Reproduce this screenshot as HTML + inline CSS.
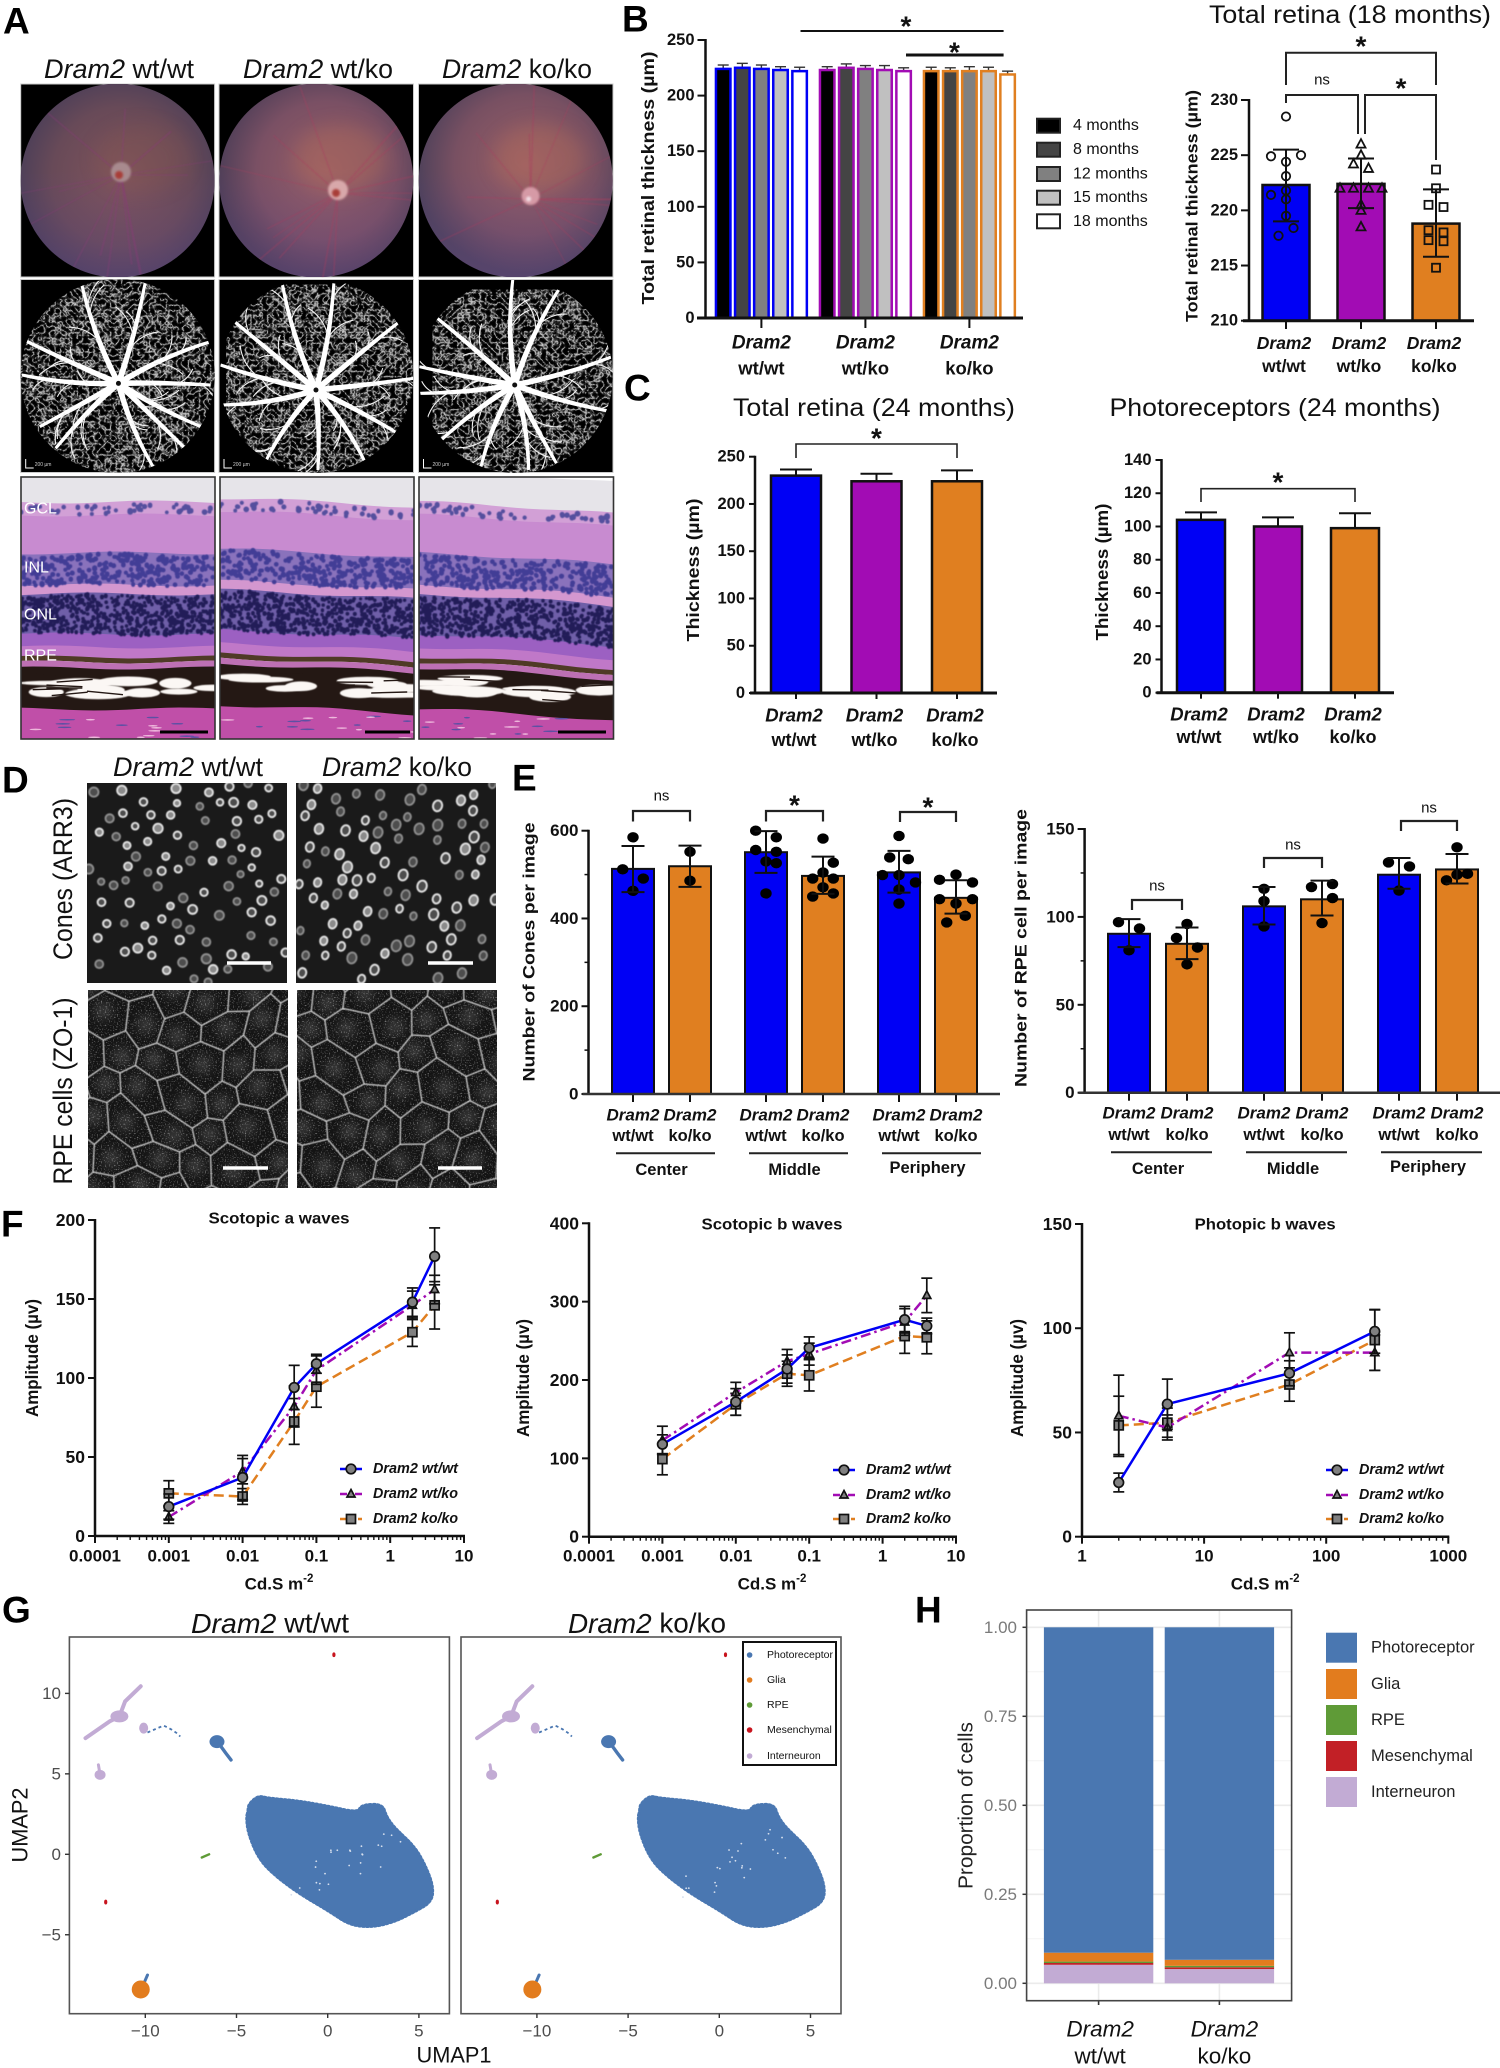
<!DOCTYPE html>
<html lang="en">
<head>
<meta charset="utf-8">
<title>Dram2 retina figure</title>
<style>
html,body{margin:0;padding:0;background:#fff;width:1500px;height:2068px;overflow:hidden}
svg{display:block}
text{font-family:"Liberation Sans",sans-serif}
</style>
</head>
<body>
<svg id="figure" width="1500" height="2068" viewBox="0 0 1500 2068" xmlns="http://www.w3.org/2000/svg">
<defs>
<filter id="blur1" x="-30%" y="-30%" width="160%" height="160%"><feGaussianBlur stdDeviation="1"/></filter>
<filter id="blur06"><feGaussianBlur stdDeviation="0.6"/></filter>
<filter id="blur04"><feGaussianBlur stdDeviation="0.4"/></filter>
<filter id="blur8" x="-50%" y="-50%" width="200%" height="200%"><feGaussianBlur stdDeviation="9"/></filter>
<filter id="blur5" x="-50%" y="-50%" width="200%" height="200%"><feGaussianBlur stdDeviation="5"/></filter>
<filter id="net" color-interpolation-filters="sRGB" x="0" y="0" width="100%" height="100%">
<feTurbulence type="turbulence" baseFrequency="0.18" numOctaves="2" seed="7"/>
<feColorMatrix type="matrix" values="1 0 0 0 0 1 0 0 0 0 1 0 0 0 0 0 0 0 0 1"/>
<feComponentTransfer><feFuncR type="table" tableValues="1 0.6 0.22 0.05 0 0 0 0 0 0"/><feFuncG type="table" tableValues="1 0.6 0.22 0.05 0 0 0 0 0 0"/><feFuncB type="table" tableValues="1 0.6 0.22 0.05 0 0 0 0 0 0"/></feComponentTransfer>
</filter>
<filter id="speck" color-interpolation-filters="sRGB" x="0" y="0" width="100%" height="100%">
<feTurbulence type="fractalNoise" baseFrequency="0.75" numOctaves="1" seed="3"/>
<feColorMatrix type="matrix" values="0 0 0 0 1 0 0 0 0 1 0 0 0 0 1 4.5 0 0 0 -2.5"/>
</filter>
<radialGradient id="fundus-grad-0" cx="0.52" cy="0.48" r="0.55"><stop offset="0" stop-color="#80545c"/><stop offset="0.65" stop-color="#684a58"/><stop offset="1" stop-color="#4a3e58"/></radialGradient>
<radialGradient id="fundus-grad-1" cx="0.55" cy="0.45" r="0.55"><stop offset="0" stop-color="#975e68"/><stop offset="0.65" stop-color="#7a5064"/><stop offset="1" stop-color="#503f58"/></radialGradient>
<radialGradient id="fundus-grad-2" cx="0.55" cy="0.42" r="0.56"><stop offset="0" stop-color="#9a6068"/><stop offset="0.65" stop-color="#785062"/><stop offset="1" stop-color="#4e415a"/></radialGradient>
<linearGradient id="fundus-purple" x1="0" y1="0" x2="0" y2="1"><stop offset="0.45" stop-color="#6a4c96" stop-opacity="0"/><stop offset="1" stop-color="#6a4c96" stop-opacity="0.3"/></linearGradient>
</defs>
</svg>
<script>
/* ===== Chart data ===== */
const genotypes3 = ['wt/wt', 'wt/ko', 'ko/ko'];
const genotypes2 = ['wt/wt', 'ko/ko'];

/* Panel B left */
const bMonths = ['4 months', '8 months', '12 months', '15 months', '18 months'];
const bTicks = [0, 50, 100, 150, 200, 250];
const bWtWt = [224, 225, 224, 223, 222];
const bWtKo = [223, 225, 224, 223, 222];
const bKoKo = [222, 222, 222, 222, 219];
const bErrWtWt = [3.5, 4, 3.5, 3, 3.5];
const bErrWtKo = [3, 3.5, 3, 4, 3];
const bErrKoKo = [3.5, 3, 4, 3.5, 3];

/* Panel B right */
const b18Ticks = [210, 215, 220, 225, 230];
const b18Means = [222.3, 222.4, 218.8];
const b18Lo = [219, 220.2, 215.8];
const b18Hi = [225.5, 224.7, 221.9];
const b18PtsWt = [228.5, 224.9, 225, 224.4, 223.1, 221.8, 221.4, 221, 219.5, 218.4, 217.7];
const b18SideWt = [0, -1, 1, 0, 0, 0, -1, 0, 0, 0.5, -0.5];
const b18PtsHet = [226, 225, 224.2, 223.8, 222, 222, 222, 222, 220.5, 220, 218.5];
const b18SideHet = [0, 0, -0.5, 0.5, -1.4, -0.5, 0.5, 1.4, 0, 0, 0];
const b18PtsKo = [223.7, 222, 220.5, 220.3, 218.2, 218, 217.3, 217.2, 214.8];
const b18SideKo = [0, 0, -0.5, 0.5, -0.5, 0.5, -0.5, 0.5, 0];

/* Panel C */
const cTotalTicks = [0, 50, 100, 150, 200, 250];
const cTotalMeans = [230, 224, 224];
const cTotalHi = [236.5, 232, 235.5];
const cPhotoTicks = [0, 20, 40, 60, 80, 100, 120, 140];
const cPhotoMeans = [104, 100, 99];
const cPhotoHi = [108.5, 105.5, 108];

/* Panel E */
const eRegions = ['Center', 'Middle', 'Periphery'];
const eConeTicks = [0, 200, 400, 600];
const eConeMeans = [513, 519, 551, 497, 505, 447];
const eConeLo = [460, 472, 504, 456, 459, 411];
const eConeHi = [565, 566, 599, 541, 554, 487];
const eConePts = [[585, 512, 491, 463], [552, 486], [600, 585, 556, 552, 530, 526, 457], [582, 527, 505, 491, 491, 471, 457, 450], [588, 539, 535, 499, 499, 482, 466, 434], [500, 488, 482, 444, 444, 434, 406, 391]];
const eConeSide = [[0, -1, 1, 0], [0, 0], [-1, 1, -1, 1, 0, 1, 0], [0, 1, 0, -1, 1, 0, 1, -1], [0, -0.9, 0.9, -1.6, 0, 1.6, 0, 0], [0, -1.6, 1.6, -1.6, 1.6, 0, 0.9, -0.9]];
const eRpeTicks = [0, 50, 100, 150];
const eRpeMeans = [90.4, 84.7, 106, 110, 124, 127];
const eRpeLo = [82.8, 76, 95.7, 100.8, 116, 119];
const eRpeHi = [98.7, 94, 117, 120.6, 133.5, 135.8];
const eRpePts = [[97, 93.4, 81], [96, 88, 82.6, 73], [116, 109, 94.6], [117, 118.7, 110.7, 96.5], [131, 128.7, 115], [139.6, 120.8, 124, 124.5]];
const eRpeSide = [[-1, 1, 0], [0, -1, 1, 0], [0, 0, 0], [-1, 1, 1, 0], [-1, 1, 0], [0, -1, 0, 1]];

/* Panel F */
const fLegend = ['Dram2 wt/wt', 'Dram2 wt/ko', 'Dram2 ko/ko'];
const scotDoses = [0.001, 0.01, 0.05, 0.1, 2, 4];
const scotXTicks = [0.0001, 0.001, 0.01, 0.1, 1, 10];
const scotXLabels = ['0.0001', '0.001', '0.01', '0.1', '1', '10'];
const scotATicks = [0, 50, 100, 150, 200];
const scotAWt = [18.6, 37, 94, 109, 148, 177];
const scotAWtErr = [8, 14, 14, 6, 9, 18];
const scotAHet = [12, 41, 82, 105, 146, 156];
const scotAHetErr = [4, 8, 13, 9, 9, 9];
const scotAKo = [27, 25, 72.5, 94.5, 129, 146];
const scotAKoErr = [8, 5, 14.5, 13, 9, 15];
const scotBTicks = [0, 100, 200, 300, 400];
const scotBWt = [118, 172, 214, 241, 277, 269];
const scotBWtErr = [12, 17, 18, 14, 17, 10];
const scotBHet = [123, 184, 224, 233, 274, 308];
const scotBHetErr = [18, 13, 15, 14, 17, 22];
const scotBKo = [99, 169, 208, 206, 256, 254.5];
const scotBKoErr = [20, 14, 16, 20, 22, 21];
const photDoses = [2, 5, 50, 250];
const photXTicks = [1, 10, 100, 1000];
const photXLabels = ['1', '10', '100', '1000'];
const photTicks = [0, 50, 100, 150];
const photWt = [26, 63.6, 78.4, 98.5];
const photWtErr = [4.5, 12, 6, 10.5];
const photHet = [58, 52.4, 88.3, 88.3];
const photHetErr = [19.5, 6, 9.5, 8.5];
const photKo = [53.4, 54.7, 73, 94.3];
const photKoErr = [14, 7, 8, 14.5];

/* Panel G: UMAP coordinates */
const cellTypes = ['Photoreceptor', 'Glia', 'RPE', 'Mesenchymal', 'Interneuron'];
const umapXTicks = [-10, -5, 0, 5];
const umapYTicks = [-5, 0, 5, 10];
const mainBlobU = [-4.37, -4.35, -3.81, -3.28, -1.58, 0.12, 1.67, 1.83, 3.0, 3.22, 3.68, 4.77, 5.39, 5.79, 5.70, 4.77, 3.68, 2.45, 1.21, 0.12, -1.58, -2.82, -3.75, -4.37, -4.46];
const mainBlobV = [2.66, 3.1, 3.65, 3.49, 3.32, 2.97, 2.59, 3.07, 3.13, 2.34, 1.62, 0.48, -0.77, -2.01, -2.95, -3.57, -4.19, -4.54, -4.40, -3.57, -2.43, -1.39, -0.35, 1.31, 2.34];
const interBranchU = [-13.28, -11.95, -11.42, -11.11, -10.25];
const interBranchV = [7.22, 8.26, 8.57, 9.5, 10.44];
const interSmallU = [-12.48, -12.57];
const interSmallV = [4.94, 5.56];
const interBlobU = [-10.09];
const interBlobV = [7.84];
const photoDotsU = [-9.88, -9.0, -8.8, -8.54, -8.3, -8.08];
const photoDotsV = [7.57, 8.0, 7.9, 7.74, 7.55, 7.32];
const photoTailU = [-6.07, -5.85, -5.6, -5.3];
const photoTailV = [7.0, 6.7, 6.3, 5.87];
const rpeU = [-6.9, -6.5];
const rpeV = [-0.2, 0];
const mesU = [0.34, -12.17];
const mesV = [12.4, -2.97];
const gliaU = [-10.25];
const gliaV = [-8.4];
const gliaTipU = [-10.05, -9.88];
const gliaTipV = [-7.95, -7.5];

/* Panel H */
const propTicks = ['0.00', '0.25', '0.50', '0.75', '1.00'];
const propInterneuron = [0.052, 0.040];
const propMesenchymal = [0.005, 0.005];
const propRpe = [0.004, 0.004];
const propGlia = [0.025, 0.017];
const propPhotoreceptor = [0.914, 0.934];

/* ===== Helpers ===== */
const NS = 'http://www.w3.org/2000/svg';
const svg = document.getElementById('figure');
const BLUE = '#0000f5', PURPLE = '#a20cb4', ORANGE = '#e07f20';
function mk(tag, name, attrs, parent) {
  const el = document.createElementNS(NS, tag);
  
  
  for (const k in attrs) el.setAttribute(k, attrs[k]);
  (parent || svg).appendChild(el);
  return el;
}
function G(name, parent) { return mk('g', name, {}, parent); }
function textAttrs(x, y, o) {
  const a = { x: x, y: y, 'dominant-baseline': 'central', 'text-anchor': o.anchor || 'middle', 'font-size': o.size || 16, fill: o.fill || '#111' };
  if (o.weight) a['font-weight'] = o.weight;
  if (o.style) a['font-style'] = o.style;
  if (o.len) { a.textLength = o.len; a.lengthAdjust = 'spacingAndGlyphs'; }
  if (o.rot) a.transform = 'rotate(-90 ' + x + ' ' + y + ')';
  return a;
}
function T(name, x, y, s, o, parent) {
  const el = mk('text', name, textAttrs(x, y, o || {}), parent);
  el.textContent = s;
  return el;
}
function geno(name, x, y, rest, o, parent) {
  const el = mk('text', name, textAttrs(x, y, o), parent);
  const a = document.createElementNS(NS, 'tspan');
  a.setAttribute('font-style', 'italic');
  a.textContent = 'Dram2';
  el.appendChild(a);
  el.appendChild(document.createTextNode(' ' + rest));
  return el;
}
function L(name, x1, y1, x2, y2, stroke, w, parent) {
  return mk('line', name, { x1: x1, y1: y1, x2: x2, y2: y2, stroke: stroke || '#111', 'stroke-width': w || 2 }, parent);
}
function star(name, x, y, parent, size) { return T(name, x, y + 6, '*', { size: size || 28, weight: 'bold' }, parent); }
function linear(d0, d1, r0, r1) { return function (v) { return r0 + (v - d0) * (r1 - r0) / (d1 - d0); }; }
function bracket(name, x1, x2, y, y1, y2, parent, w) {
  return mk('path', name, { d: 'M' + x1 + ' ' + y1 + 'V' + y + 'H' + x2 + 'V' + y2, fill: 'none', stroke: '#222', 'stroke-width': w || 2 }, parent);
}
function yAxis(name, parent, x, yFn, ticks, o) {
  const g = G(name, parent);
  L('y-axis-line', x, yFn(ticks[0]) + 1, x, yFn(ticks[ticks.length - 1]) - 1, '#111', o.w || 2.5, g);
  ticks.forEach(function (t) {
    L('y-tick', x - (o.tick || 8), yFn(t), x, yFn(t), '#111', 2, g);
    T('y-tick-label', x - (o.gap || 11), yFn(t), String(t), { anchor: 'end', size: o.size || 16.5, weight: 'bold' }, g);
  });
  return g;
}
function barRect(name, parent, cx, w, yTop, yBase, fill, stroke, sw) {
  return mk('rect', name, { x: cx - w / 2, y: yTop, width: w, height: yBase - yTop, fill: fill, stroke: stroke, 'stroke-width': sw }, parent);
}
function errBar(name, parent, cx, yLo, yHi, cap, color, w) {
  const g = G(name, parent);
  L('error-stem', cx, yLo, cx, yHi, color, w, g);
  L('error-cap-top', cx - cap, yHi, cx + cap, yHi, color, w, g);
  if (yLo !== undefined) L('error-cap-bottom', cx - cap, yLo, cx + cap, yLo, color, w, g);
  return g;
}
function errTop(name, parent, cx, yBar, yHi, cap, color, w) {
  const g = G(name, parent);
  L('error-stem', cx, yBar, cx, yHi, color, w, g);
  L('error-cap', cx - cap, yHi, cx + cap, yHi, color, w, g);
  return g;
}
function rng(seed) { let s = seed; return function () { s = (s * 16807) % 2147483647; return (s - 1) / 2147483646; }; }

/* ===== Panel letters ===== */
[['A', 3, 21], ['B', 622, 19], ['C', 624, 388], ['D', 2, 780], ['E', 512, 778], ['F', 1, 1224], ['G', 2, 1610], ['H', 915, 1610]].forEach(function (p) {
  T('panel-letter-' + p[0].toLowerCase(), p[1], p[2], p[0], { anchor: 'start', size: 37, weight: 'bold', fill: '#000' });
});

/* ===== Panel A: images ===== */
const panelA = G('panel-a');
const colsA = [[20.7, 214.6], [219, 413.5], [418.5, 613]];
const aTitles = ['wt/wt', 'wt/ko', 'ko/ko'];
const aTitleX = [119, 318, 517];
aTitles.forEach(function (t, i) { geno('panel-a-title-' + t.replace('/', '-'), aTitleX[i], 69, t, { size: 27, len: 150 }, panelA); });
const discs = [[121, 175], [338, 193], [530.6, 199]];
const defs = svg.querySelector('defs');
colsA.forEach(function (c, i) {
  const w = c[1] - c[0], cx = (c[0] + c[1]) / 2, cy = 180.5, r = 97;
  const cp = document.createElementNS(NS, 'clipPath'); cp.id = 'fundus-clip-' + i;
  const cc = document.createElementNS(NS, 'circle'); cc.setAttribute('cx', cx); cc.setAttribute('cy', cy); cc.setAttribute('r', r); cp.appendChild(cc); defs.appendChild(cp);
  const g = G('fundus-photo-' + i, panelA);
  mk('rect', 'fundus-background', { x: c[0], y: 84, width: w, height: 193, fill: '#000', stroke: '#ccc', 'stroke-width': 1 }, g);
  const inner = mk('g', 'fundus-disc-area', { 'clip-path': 'url(#fundus-clip-' + i + ')' }, g);
  mk('rect', 'fundus-gradient', { x: c[0], y: 84, width: w, height: 193, fill: 'url(#fundus-grad-' + i + ')' }, inner);
  mk('rect', 'fundus-purple-tint', { x: c[0], y: 84, width: w, height: 193, fill: 'url(#fundus-purple)' }, inner);
  mk('ellipse', 'fundus-warm-area', { cx: cx + 24, cy: cy - 22, rx: 46, ry: 34, fill: i === 0 ? '#85564f' : '#b06a58', opacity: i === 0 ? 0.3 : 0.42, filter: 'url(#blur8)' }, inner);
  const d = discs[i], rand = rng(31 + i * 17);
  const vessels = G('retinal-vessels', inner);
  vessels.setAttribute('filter', 'url(#blur06)');
  for (let k = 0; k < 14; k++) {
    const ang = (rand() * 360) * Math.PI / 180, len = 60 + rand() * 90;
    L('retinal-vessel', d[0], d[1], d[0] + Math.cos(ang) * len, d[1] + Math.sin(ang) * len, i === 0 ? '#8a3a78' : '#a8405e', 0.9 + rand(), vessels).setAttribute('opacity', 0.35);
  }
  mk('circle', 'optic-disc', { cx: d[0], cy: d[1] - 3, r: i === 2 ? 9 : 10, fill: i === 0 ? '#a88a8e' : (i === 1 ? '#d8a8aa' : '#d69aa6'), filter: 'url(#blur1)' }, inner);
  mk('circle', 'optic-cup', { cx: d[0] - 2, cy: d[1], r: i === 2 ? 2.5 : 4, fill: i === 2 ? '#f3dfe6' : '#a83c38', filter: 'url(#blur1)' }, inner);
});
const angioVessels = [
  [[205, 850], [365, 850], [60, 1020], [530, 1025], [55, 1125], [530, 1155], [140, 1345], [505, 1280], [385, 1400], [470, 1350], [100, 1280]],
  [[710, 850], [840, 850], [590, 965], [1005, 965], [555, 1095], [1040, 1135], [560, 1215], [1000, 1300], [670, 1380], [800, 1410], [920, 1390]],
  [[1290, 840], [1405, 870], [1095, 950], [1540, 1070], [1055, 1100], [1540, 1235], [1055, 1180], [1110, 1320], [1210, 1400], [1330, 1410], [1400, 1390]]
];
const angioCenter = [[298, 1150], [795, 1170], [1295, 1155]];
colsA.forEach(function (c, i) {
  const w = c[1] - c[0], cx = (c[0] + c[1]) / 2, cy = 376, r = 97;
  const cp = document.createElementNS(NS, 'clipPath'); cp.id = 'angio-clip-' + i;
  const cc = document.createElementNS(NS, 'circle'); cc.setAttribute('cx', cx); cc.setAttribute('cy', cy); cc.setAttribute('r', r); cp.appendChild(cc); defs.appendChild(cp);
  const g = G('angiogram-' + i, panelA);
  mk('rect', 'angiogram-background', { x: c[0], y: 279.5, width: w, height: 193, fill: '#000', stroke: '#ccc', 'stroke-width': 1 }, g);
  const inner = mk('g', 'angiogram-vessels', { 'clip-path': 'url(#angio-clip-' + i + ')' }, g);
  mk('rect', 'capillary-network', { x: c[0], y: 279.5, width: w, height: 193, filter: 'url(#net)', opacity: 0.85, transform: 'translate(' + (i * 7) + ' ' + (i * 5) + ')' }, inner);
  const px = function (zx) { return zx / 2.516; }, py = function (zy) { return zy / 3; };
  const c0x = px(angioCenter[i][0]), c0y = py(angioCenter[i][1]);
  const rand = rng(401 + i * 29);
  angioVessels[i].forEach(function (e) {
    const ex = px(e[0]), ey = py(e[1]);
    const dx = ex - c0x, dy = ey - c0y, n = Math.hypot(dx, dy), nx = -dy / n, ny = dx / n;
    const bend = (rand() - 0.5) * 14, mx = (c0x + ex) / 2 + nx * bend, my = (c0y + ey) / 2 + ny * bend;
    mk('path', 'major-vessel', { d: 'M' + (c0x + nx * 3) + ' ' + (c0y + ny * 3) + 'Q' + (mx + nx * 2.4) + ' ' + (my + ny * 2.4) + ' ' + (ex + nx * 1.5) + ' ' + (ey + ny * 1.5) + 'L' + (ex - nx * 1.5) + ' ' + (ey - ny * 1.5) + 'Q' + (mx - nx * 2.4) + ' ' + (my - ny * 2.4) + ' ' + (c0x - nx * 3) + ' ' + (c0y - ny * 3) + 'Z', fill: '#fff' }, inner);
    for (let b = 0; b < 3; b++) {
      const f = 0.3 + rand() * 0.6, sx = c0x + dx * f + nx * bend * 0.5, sy = c0y + dy * f + ny * bend * 0.5, sgn = rand() > 0.5 ? 1 : -1, l = 16 + rand() * 22;
      mk('path', 'vessel-branch', { d: 'M' + sx + ' ' + sy + 'q' + (dx / n * l * 0.5 + nx * sgn * l * 0.2) + ' ' + (dy / n * l * 0.5 + ny * sgn * l * 0.2) + ' ' + (dx / n * l * 0.7 + nx * sgn * l * 0.7) + ' ' + (dy / n * l * 0.7 + ny * sgn * l * 0.7), fill: 'none', stroke: '#f2f2f2', 'stroke-width': 1.1 }, inner);
    }
  });
  mk('circle', 'optic-nerve-head', { cx: c0x, cy: c0y, r: 2.5, fill: '#111' }, inner);
  mk('path', 'angiogram-scale-bar', { d: 'M' + (c[0] + 5) + ' 459V468H' + (c[0] + 13), fill: 'none', stroke: '#fff', 'stroke-width': 1 }, g);
  T('angiogram-scale-label', c[0] + 14, 465, '200 µm', { anchor: 'start', size: 5, fill: '#ccc' }, g);
});
/* histology */
const histoCols = [[21, 215], [220, 414], [419, 613.5]];
const histoTilt = [[0, 0, 0], [-4, -1, 5], [0, 3, 12]];
const histoLayers = [
  ['vitreous-space', 476, 503, '#e6e4e9'], ['ganglion-cell-layer', 502, 516, '#d2a0d6'], ['inner-plexiform-layer', 515, 554, '#c88bd0'],
  ['inner-nuclear-layer', 553, 586, '#8a72bc'], ['outer-plexiform-layer', 585, 595, '#d497cf'], ['outer-nuclear-layer', 594, 635, '#6f5fa8'],
  ['photoreceptor-inner-segments', 634, 648, '#9c60c2'], ['photoreceptor-outer-segments', 647, 658, '#c078c8'], ['rpe-layer', 657, 662, '#4f3a26'], ['bruch-layer', 662, 669, '#bd70b4'],
  ['choroid-layer', 668, 710, '#241814'], ['sclera-layer', 709, 740, '#c04fa8']
];
histoCols.forEach(function (c, i) {
  const g = G('histology-section-' + i, panelA);
  const cp = document.createElementNS(NS, 'clipPath'); cp.id = 'histo-clip-' + i;
  const cr = document.createElementNS(NS, 'rect'); cr.setAttribute('x', c[0]); cr.setAttribute('y', 477); cr.setAttribute('width', c[1] - c[0]); cr.setAttribute('height', 262); cp.appendChild(cr); defs.appendChild(cp);
  const inner = mk('g', 'histology-layers', { 'clip-path': 'url(#histo-clip-' + i + ')' }, g);
  const t = histoTilt[i], W = c[1] - c[0];
  const yAt = function (b, f) { return b + (1 - f) * (1 - f) * t[0] + 2 * f * (1 - f) * t[1] + f * f * t[2] + 1.5 * Math.sin(f * 7 + i * 2 + b / 40); };
  histoLayers.forEach(function (l, k) {
    const top = k === 0 ? 470 : l[1], bot = k === histoLayers.length - 1 ? 760 : l[2];
    let d = '';
    for (let s = 0; s <= 16; s++) d += (s ? 'L' : 'M') + (c[0] + W * s / 16).toFixed(1) + ' ' + yAt(top, s / 16).toFixed(1);
    for (let s = 16; s >= 0; s--) d += 'L' + (c[0] + W * s / 16).toFixed(1) + ' ' + yAt(bot, s / 16).toFixed(1);
    mk('path', l[0], { d: d + 'Z', fill: l[3] }, inner);
  });
  const rand = rng(97 + i * 13);
  const dots = function (name, n, b0, b1, r0, r1, col) {
    let d = '';
    for (let k = 0; k < n; k++) {
      const f = rand(), y = yAt(b0 + rand() * (b1 - b0), f), x = c[0] + f * W, r = r0 + rand() * (r1 - r0);
      d += 'M' + (x - r).toFixed(1) + ' ' + y.toFixed(1) + 'a' + r.toFixed(1) + ' ' + r.toFixed(1) + ' 0 1 0 ' + (2 * r).toFixed(1) + ' 0a' + r.toFixed(1) + ' ' + r.toFixed(1) + ' 0 1 0 ' + (-2 * r).toFixed(1) + ' 0';
    }
    mk('path', name, { d: d, fill: col, filter: 'url(#blur04)' }, inner);
  };
  dots('ganglion-cell-nuclei', 46, 505, 514, 1.8, 3, '#55509e');
  dots('inner-nuclear-cells', 300, 555, 585, 1.9, 2.6, '#433c96');
  dots('outer-nuclear-cells', 620, 596, 634, 1.6, 2.1, '#241f58');
  for (let k = 0; k < 10; k++) {
    const fx = rand();
    mk('ellipse', 'choroid-gap', { cx: c[0] + fx * W, cy: yAt(674 + rand() * 20, fx), rx: 16 + rand() * 22, ry: 2 + rand() * 3.5, fill: '#fbf7f4', filter: 'url(#blur04)' }, inner);
  }
  for (let k = 0; k < 8; k++) {
    const fx = rand(), yy = yAt(674 + rand() * 20, fx);
    L('choroid-pigment-streak', c[0] + fx * W - 18, yy - 2 + rand() * 4, c[0] + fx * W + 18, yy - 2 + rand() * 4, '#241814', 1.4, inner);
  }
  for (let k = 0; k < 16; k++) {
    mk('ellipse', 'sclera-streak', { cx: c[0] + rand() * W, cy: 716 + rand() * 22, rx: 3 + rand() * 5, ry: 0.8, fill: k % 2 ? '#eeb8dc' : '#5c50a4' }, inner);
  }
  mk('rect', 'histology-frame', { x: c[0], y: 477, width: W, height: 262, fill: 'none', stroke: '#333', 'stroke-width': 1.6 }, g);
});
[['GCL', 509], ['INL', 568], ['ONL', 615], ['RPE', 656]].forEach(function (l) {
  T('layer-label-' + l[0].toLowerCase(), 24, l[1], l[0], { anchor: 'start', size: 16, fill: '#fff' }, panelA);
});
[[160, 208], [365, 410], [558, 606]].forEach(function (b) { L('histology-scale-bar', b[0], 732, b[1], 732, '#000', 3, panelA); });

/* ===== Panel B left ===== */
(function () {
  const g = G('panel-b-thickness-over-time');
  const y = linear(0, 250, 318, 40);
  const x = function (gi, mi) { return 723.2 + gi * 104 + mi * 19.1; };
  const fills = ['#000', '#444', '#808080', '#c0c0c0', '#fff'];
  const stroke = [BLUE, PURPLE, ORANGE];
  [bWtWt, bWtKo, bKoKo].forEach(function (vals, gi) {
    const errs = [bErrWtWt, bErrWtKo, bErrKoKo][gi];
    vals.forEach(function (v, mi) {
      errTop('bar-error', g, x(gi, mi), y(v), y(v + errs[mi]), 5.5, '#333', 1.4);
      barRect('bar-' + genotypes3[gi].replace('/', '-') + '-' + bMonths[mi].replace(' ', '-'), g, x(gi, mi), 14.5, y(v), y(0), fills[mi], stroke[gi], 2.5);
    });
  });
  yAxis('y-axis', g, 705.5, y, bTicks, {});
  L('x-axis-line', 697, 318, 1023, 318, '#111', 3, g);
  genotypes3.forEach(function (t, i) {
    const cx = x(i, 2);
    L('x-tick', cx, 318, cx, 328, '#111', 2, g);
    T('x-label-gene', cx, 343, 'Dram2', { size: 19, weight: 'bold', style: 'italic' }, g);
    T('x-label-genotype', cx, 368, t, { size: 18.5, weight: 'bold' }, g);
  });
  T('y-axis-title', 648, 178, 'Total retinal thickness (µm)', { size: 17.5, weight: 'bold', rot: 1, len: 253 }, g);
  L('significance-line-top', 800.5, 31, 1003.6, 31, '#111', 2, g);
  star('significance-star-top', 906, 20, g);
  L('significance-line-lower', 906, 55, 1003.6, 55, '#111', 3, g);
  star('significance-star-lower', 954.5, 46, g);
  const legYs = [125.7, 149.7, 174, 197.7, 221.3];
  bMonths.forEach(function (m, i) {
    mk('rect', 'legend-swatch-' + m.replace(' ', '-'), { x: 1037, y: legYs[i] - 7, width: 23, height: 14, fill: fills[i], stroke: '#222', 'stroke-width': 2 }, g);
    T('legend-label-' + m.replace(' ', '-'), 1073, legYs[i], m, { anchor: 'start', size: 16 }, g);
  });
})();

/* ===== Panel B right ===== */
(function () {
  const g = G('panel-b-total-retina-18-months');
  T('chart-title', 1350, 15, 'Total retina (18 months)', { size: 25, len: 282 }, g);
  const y = linear(210, 230, 320.7, 100);
  const x = function (i) { return 1286 + 75 * i; };
  const cols = [BLUE, PURPLE, ORANGE];
  b18Means.forEach(function (v, i) {
    barRect('bar-' + genotypes3[i].replace('/', '-'), g, x(i), 47, y(v), y(210), cols[i], '#111', 2.5);
  });
  const ptsets = [b18PtsWt, b18PtsHet, b18PtsKo], sides = [b18SideWt, b18SideHet, b18SideKo];
  ptsets.forEach(function (arr, i) {
    arr.forEach(function (v, k) {
      const px = x(i) + sides[i][k] * 15, py = y(v);
      if (i === 0) mk('circle', 'point-circle', { cx: px, cy: py, r: 4.2, fill: 'none', stroke: '#111', 'stroke-width': 1.8 }, g);
      if (i === 1) mk('path', 'point-triangle', { d: 'M' + px + ' ' + (py - 5) + 'l4.5 8.5h-9z', fill: 'none', stroke: '#111', 'stroke-width': 1.8 }, g);
      if (i === 2) mk('rect', 'point-square', { x: px - 4, y: py - 4, width: 8, height: 8, fill: 'none', stroke: '#111', 'stroke-width': 1.8 }, g);
    });
    errBar('error-bar', g, x(i), y(b18Lo[i]), y(b18Hi[i]), 13, '#111', 2);
  });
  yAxis('y-axis', g, 1249, y, b18Ticks, {});
  L('x-axis-line', 1243, 320.7, 1474, 320.7, '#111', 3, g);
  genotypes3.forEach(function (t, i) {
    L('x-tick', x(i), 320, x(i), 329, '#111', 2, g);
    T('x-label-gene', x(i) - 2, 343, 'Dram2', { size: 17.5, weight: 'bold', style: 'italic' }, g);
    T('x-label-genotype', x(i) - 2, 366, t, { size: 17.5, weight: 'bold' }, g);
  });
  T('y-axis-title', 1192, 206, 'Total retinal thickness (µm)', { size: 17, weight: 'bold', rot: 1, len: 232 }, g);
  bracket('significance-bracket-outer', x(0), x(2), 52.7, 85, 85, g);
  star('significance-star-outer', x(1), 40, g);
  bracket('significance-bracket-left', x(0), 1358, 95, 103, 134, g);
  bracket('significance-bracket-right', 1365, x(2), 95, 134, 160, g);
  T('ns-label', 1322, 80, 'ns', { size: 15 }, g);
  star('significance-star-right', 1401, 82, g);
})();

/* ===== Panel C ===== */
function drawC(name, title, titleX, o, means, hi, ticks) {
  const g = G(name);
  T('chart-title', titleX, 408, title, { size: 25, len: o.titleLen }, g);
  const y = linear(ticks[0], ticks[ticks.length - 1], o.y0, o.yTop);
  const x = function (i) { return o.x0 + o.step * i; };
  const cols = [BLUE, PURPLE, ORANGE];
  means.forEach(function (v, i) {
    errTop('error-bar', g, x(i), y(v), y(hi[i]), 16, '#111', 2);
    barRect('bar-' + genotypes3[i].replace('/', '-'), g, x(i), o.bw, y(v), y(0), cols[i], '#111', 2.5);
  });
  yAxis('y-axis', g, o.ax, y, ticks, { tick: 6, gap: 10 });
  L('x-axis-line', o.ax - 5, y(0), o.xEnd, y(0), '#111', 3, g);
  genotypes3.forEach(function (t, i) {
    L('x-tick', x(i), y(0), x(i), y(0) + 6, '#111', 2, g);
    T('x-label-gene', x(i) - 2, o.l1, 'Dram2', { size: 18.5, weight: 'bold', style: 'italic' }, g);
    T('x-label-genotype', x(i) - 2, o.l2, t, { size: 18, weight: 'bold' }, g);
  });
  T('y-axis-title', o.tx, o.tc, 'Thickness (µm)', { size: 17.5, weight: 'bold', rot: 1, len: o.tl }, g);
  bracket('significance-bracket', x(0), x(2), o.by, o.by2, o.by2, g, 1.6);
  star('significance-star', x(1), o.sy, g);
}
drawC('panel-c-total-retina-24-months', 'Total retina (24 months)', 874, { titleLen: 282, y0: 693, yTop: 456.7, x0: 796, step: 80.5, bw: 50, ax: 755, xEnd: 997, l1: 715, l2: 740, tx: 693, tc: 570, tl: 143, by: 444, by2: 458, sy: 432 }, cTotalMeans, cTotalHi, cTotalTicks);
drawC('panel-c-photoreceptors-24-months', 'Photoreceptors (24 months)', 1275, { titleLen: 331, y0: 692.7, yTop: 460, x0: 1201, step: 77, bw: 48, ax: 1161.5, xEnd: 1394, l1: 714, l2: 737, tx: 1102, tc: 572, tl: 137, by: 488.7, by2: 502, sy: 476 }, cPhotoMeans, cPhotoHi, cPhotoTicks);

/* ===== Panel D ===== */
(function () {
  const g = G('panel-d');
  geno('column-title-wt-wt', 188, 767, 'wt/wt', { size: 27, len: 150 }, g);
  geno('column-title-ko-ko', 397, 767, 'ko/ko', { size: 27, len: 150 }, g);
  T('row-label-cones', 63, 879, 'Cones (ARR3)', { size: 27, rot: 1, len: 162 }, g);
  T('row-label-rpe', 63, 1091, 'RPE cells (ZO-1)', { size: 27, rot: 1, len: 187 }, g);
  [[87, 783, 5], [296, 783, 23]].forEach(function (p, pi) {
    const sub = G('cones-image-' + pi, g);
    const cp = document.createElementNS(NS, 'clipPath'); cp.id = 'd-clip-' + pi;
    const cr = document.createElementNS(NS, 'rect'); cr.setAttribute('x', p[0]); cr.setAttribute('y', p[1]); cr.setAttribute('width', 200); cr.setAttribute('height', 200); cp.appendChild(cr); defs.appendChild(cp);
    mk('rect', 'cones-background', { x: p[0], y: p[1], width: 200, height: 200, fill: '#1a1a1a' }, sub);
    const inner = mk('g', 'cone-cells', { 'clip-path': 'url(#d-clip-' + pi + ')', filter: 'url(#blur06)' }, sub);
    const rand = rng(p[2] * 211 + 5);
    const placed = [];
    for (let k = 0; k < 900 && placed.length < 92; k++) {
      const cx = p[0] + rand() * 200, cy = p[1] + rand() * 200;
      if (placed.some(function (q) { return Math.hypot(q[0] - cx, q[1] - cy) < 12.5; })) continue;
      placed.push([cx, cy]);
      const rr = 3.2 + rand() * 1.6, bright = rand();
      const el = mk('ellipse', 'cone-cell', { cx: cx, cy: cy, rx: rr, ry: pi ? rr * 1.2 : rr, fill: bright > 0.75 ? '#8a8a8a' : '#4e4e4e', stroke: bright > 0.35 ? '#e2e2e2' : '#8e8e8e', 'stroke-width': 1.8 }, inner);
      if (pi) el.setAttribute('transform', 'rotate(15 ' + cx + ' ' + cy + ')');
    }
  });
  [[88, 990, 1.2], [297, 990, 2.9]].forEach(function (p, pi) {
    const sub = G('rpe-image-' + pi, g);
    const cp = document.createElementNS(NS, 'clipPath'); cp.id = 'r-clip-' + pi;
    const cr = document.createElementNS(NS, 'rect'); cr.setAttribute('x', p[0]); cr.setAttribute('y', p[1]); cr.setAttribute('width', 200); cr.setAttribute('height', 198); cp.appendChild(cr); defs.appendChild(cp);
    mk('rect', 'rpe-background', { x: p[0], y: p[1], width: 200, height: 198, fill: '#141414' }, sub);
    const inner = mk('g', 'rpe-cells', { 'clip-path': 'url(#r-clip-' + pi + ')' }, sub);
    const s = p[2], R = 23;
    const warp = function (x, y) { return [x + 9 * Math.sin(y / 37 + s) + 5 * Math.sin(x / 17 + s * 2 + y / 29), y + 9 * Math.sin(x / 31 + s) + 5 * Math.sin(y / 15 + s + x / 23)]; };
    let d = '';
    for (let row = -1; row < 8; row++) {
      for (let col = -1; col < 8; col++) {
        const cx = p[0] + col * R * 1.732 + (row % 2 ? R * 0.866 : 0), cy = p[1] + row * R * 1.5;
        const cw = warp(cx, cy);
        mk('circle', 'rpe-cell-glow', { cx: cw[0], cy: cw[1], r: 9, fill: '#5c5c5c', opacity: 0.5, filter: 'url(#blur5)' }, inner);
        for (let a = 0; a <= 6; a++) {
          const an = Math.PI / 6 + a * Math.PI / 3;
          const v = warp(cx + R * Math.cos(an), cy + R * Math.sin(an));
          d += (a ? 'L' : 'M') + v[0].toFixed(1) + ' ' + v[1].toFixed(1);
        }
      }
    }
    mk('rect', 'rpe-speckle', { x: p[0], y: p[1], width: 200, height: 198, filter: 'url(#speck)', opacity: 0.4 }, inner);
    mk('path', 'rpe-cell-borders', { d: d, fill: 'none', stroke: '#d8d8d8', 'stroke-width': 1.2, filter: 'url(#blur04)' }, inner);
  });
  [[227, 271, 963], [428, 473, 963], [223, 268, 1168], [438, 482, 1168]].forEach(function (b) { L('scale-bar', b[0], b[2], b[1], b[2], '#fff', 3.5, g); });
})();

/* ===== Panel E ===== */
function drawE(name, o, ticks, minor, means, lo, hi, pts, side) {
  const g = G(name);
  const y = linear(0, ticks[ticks.length - 1], o.y0, o.yTop);
  const x = function (i) { return o.x0 + (i >> 1) * o.groupStep + (i % 2) * o.pairStep; };
  means.forEach(function (v, i) {
    barRect('bar-' + eRegions[i >> 1].toLowerCase() + '-' + genotypes2[i % 2].replace('/', '-'), g, x(i), 42, y(v), y(0), i % 2 ? ORANGE : BLUE, '#111', 2);
    pts[i].forEach(function (pv, k) {
      mk('ellipse', 'data-point', { cx: x(i) + side[i][k] * o.sideUnit, cy: y(pv), rx: 5.7, ry: 5.2, fill: '#000' }, g);
    });
    errBar('error-bar', g, x(i), y(lo[i]), y(hi[i]), 11.5, '#111', 2);
    L('x-tick', x(i), y(0), x(i), y(0) + 8, '#111', 2, g);
    T('x-label-gene', x(i), o.l1, 'Dram2', { size: 17, weight: 'bold', style: 'italic' }, g);
    T('x-label-genotype', x(i), o.l2, genotypes2[i % 2], { size: 16.5, weight: 'bold' }, g);
  });
  minor.forEach(function (t) { L('y-minor-tick', o.ax - 4, y(t), o.ax, y(t), '#111', 1.5, g); });
  yAxis('y-axis', g, o.ax, y, ticks, { tick: 7, gap: 10, size: 17 });
  L('x-axis-line', o.ax - 6, y(0), o.xEnd, y(0), '#333', 2.5, g);
  T('y-axis-title', o.tx, o.tc, o.title, { size: 17, weight: 'bold', rot: 1, len: o.tl }, g);
  eRegions.forEach(function (r, i) {
    const l = x(i * 2) + o.ulL, rr = x(i * 2) + o.ulR;
    L('group-underline-' + r.toLowerCase(), l, o.uy, rr, o.uy, '#222', 2, g);
    T('group-label-' + r.toLowerCase(), (x(i * 2) + x(i * 2 + 1)) / 2, o.gy[i], r, { size: 16.5, weight: 'bold' }, g);
  });
  o.brackets.forEach(function (b, i) {
    const xa = x(i * 2) + b[0], xb = x(i * 2 + 1) + b[1];
    bracket('significance-bracket-' + eRegions[i].toLowerCase(), xa, xb, b[2], b[3], b[3], g, 2.2);
    if (b[4] === 'ns') T('ns-label', (xa + xb) / 2, b[5], 'ns', { size: 15 }, g);
    else star('significance-star', (xa + xb) / 2, b[5], g);
  });
}
drawE('panel-e-cones', { y0: 1094, yTop: 830.7, x0: 633, groupStep: 133, pairStep: 57, sideUnit: 10.3, ax: 588.5, xEnd: 1000, l1: 1115, l2: 1136, tx: 529, tc: 952, tl: 259, title: 'Number of Cones per image', ulL: -17, ulR: 82, uy: 1153.3, gy: [1170, 1170, 1168],
  brackets: [[0, 0, 811, 821.5, 'ns', 796], [0, 0, 811, 821.5, '*', 799], [1, 0, 812, 822, '*', 801]] }, eConeTicks, [100, 300, 500], eConeMeans, eConeLo, eConeHi, eConePts, eConeSide);
drawE('panel-e-rpe', { y0: 1092.7, yTop: 829, x0: 1129, groupStep: 135, pairStep: 58, sideUnit: 10.5, ax: 1084.6, xEnd: 1500, l1: 1113, l2: 1135, tx: 1021, tc: 948, tl: 278, title: 'Number of RPE cell per image', ulL: -18, ulR: 83, uy: 1152.3, gy: [1169, 1169, 1167],
  brackets: [[3, -5, 900, 910, 'ns', 886], [0, 0, 858, 868, 'ns', 845], [2, 0, 821, 831, 'ns', 808]] }, eRpeTicks, [25, 75, 125], eRpeMeans, eRpeLo, eRpeHi, eRpePts, eRpeSide);

/* ===== Panel F ===== */
function drawErg(name, o, doses, xTicks, xLabels, yTicks, series, errs) {
  const g = G(name);
  const minLog = Math.log10(xTicks[0]), maxLog = Math.log10(xTicks[xTicks.length - 1]);
  const xl = linear(minLog, maxLog, o.x0, o.x1);
  const x = function (v) { return xl(Math.log10(v)); };
  const y = linear(0, yTicks[yTicks.length - 1], o.y0, o.yTop);
  T('chart-title', (o.x0 + o.x1) / 2 + o.tOff, o.titleY, o.title, { size: 16, weight: 'bold', len: 141 }, g);
  yAxis('y-axis', g, o.x0, y, yTicks, { tick: 7, gap: 10, size: 17.5 });
  L('x-axis-line', o.x0 - 1, o.y0, o.x1 + 1, o.y0, '#111', 2.5, g);
  xTicks.forEach(function (t, i) {
    L('x-major-tick', x(t), o.y0, x(t), o.y0 + 7, '#111', 2, g);
    T('x-tick-label', x(t), 1556, xLabels[i], { size: 17, weight: 'bold' }, g);
    if (i < xTicks.length - 1) for (let m = 2; m < 10; m++) L('x-minor-tick', x(t * m), o.y0, x(t * m), o.y0 + 4, '#111', 1.4, g);
  });
  const xt = mk('text', 'x-axis-title', textAttrs((o.x0 + o.x1) / 2 + o.tOff, 1584, { size: 17, weight: 'bold' }), g);
  xt.textContent = 'Cd.S m';
  const sup = document.createElementNS(NS, 'tspan'); sup.setAttribute('dy', '-5'); sup.setAttribute('font-size', '11.5'); sup.textContent = '-2'; xt.appendChild(sup);
  T('y-axis-title', o.tx, o.tc, 'Amplitude (µv)', { size: 17.5, weight: 'bold', rot: 1, len: 118 }, g);
  const cols = [BLUE, PURPLE, ORANGE], dash = ['', '10 4 2.5 4', '10 5'];
  const marker = function (nm, kind, px, py, parent) {
    if (kind === 0) mk('circle', nm, { cx: px, cy: py, r: 4.8, fill: '#808080', stroke: '#111', 'stroke-width': 1.7 }, parent);
    if (kind === 1) mk('path', nm, { d: 'M' + px + ' ' + (py - 4.5) + 'l4 7.5h-8z', fill: '#808080', stroke: '#111', 'stroke-width': 1.7 }, parent);
    if (kind === 2) mk('rect', nm, { x: px - 4.5, y: py - 4.5, width: 9, height: 9, fill: '#808080', stroke: '#111', 'stroke-width': 1.7 }, parent);
  };
  [2, 1, 0].forEach(function (s) {
    const sg = G('series-' + fLegend[s].toLowerCase().replace(/[ \/]/g, '-'), g);
    series[s].forEach(function (v, i) { errBar('error-bar', sg, x(doses[i]), y(v - errs[s][i]), y(v + errs[s][i]), 5.5, '#111', 1.7); });
    mk('polyline', 'series-line', { points: series[s].map(function (v, i) { return x(doses[i]).toFixed(1) + ',' + y(v).toFixed(1); }).join(' '), fill: 'none', stroke: cols[s], 'stroke-width': 2.5, 'stroke-dasharray': dash[s] || 'none' }, sg);
    series[s].forEach(function (v, i) { marker('series-marker', s, x(doses[i]), y(v), sg); });
  });
  fLegend.forEach(function (l, s) {
    const lg = G('legend-entry-' + l.toLowerCase().replace(/[ \/]/g, '-'), g);
    L('legend-line', o.legX, o.legY[s], o.legX + 22, o.legY[s], cols[s], 2.5, lg).setAttribute('stroke-dasharray', s === 0 ? 'none' : (s === 1 ? '7 3 2 3' : '6 3'));
    marker('legend-marker', s, o.legX + 11, o.legY[s], lg);
    T('legend-label', o.legX + 33, o.legY[s], l, { anchor: 'start', size: 14.5, weight: 'bold', style: 'italic', len: 85 }, lg);
  });
}
drawErg('panel-f-scotopic-a', { x0: 95, x1: 464, y0: 1536, yTop: 1220, title: 'Scotopic a waves', titleY: 1219, tOff: -0.5, tx: 32, tc: 1358, legX: 340, legY: [1469, 1494, 1519] }, scotDoses, scotXTicks, scotXLabels, scotATicks, [scotAWt, scotAHet, scotAKo], [scotAWtErr, scotAHetErr, scotAKoErr]);
drawErg('panel-f-scotopic-b', { x0: 589, x1: 956, y0: 1536.7, yTop: 1223.3, title: 'Scotopic b waves', titleY: 1225, tOff: -0.5, tx: 523, tc: 1378, legX: 833, legY: [1470, 1495, 1519] }, scotDoses, scotXTicks, scotXLabels, scotBTicks, [scotBWt, scotBHet, scotBKo], [scotBWtErr, scotBHetErr, scotBKoErr]);
drawErg('panel-f-photopic-b', { x0: 1082, x1: 1448.3, y0: 1536.7, yTop: 1224, title: 'Photopic b waves', titleY: 1225, tOff: 0, tx: 1017, tc: 1378, legX: 1326, legY: [1470, 1495, 1519] }, photDoses, photXTicks, photXLabels, photTicks, [photWt, photHet, photKo], [photWtErr, photHetErr, photKoErr]);

/* ===== Panel G ===== */
const typeCols = ['#4a77b1', '#e27c1e', '#5f9b37', '#c8141e', '#c2abd4'];
function drawUmap(name, frameX, zeroX, rest, titleCx, seed) {
  const g = G(name);
  const x = linear(0, 5, zeroX, zeroX + 91.2);
  const y = linear(0, 5, 1854.3, 1773.85);
  const poly = function (U, V) { return U.map(function (u, i) { return x(u).toFixed(1) + ',' + y(V[i]).toFixed(1); }).join(' '); };
  geno('umap-title-' + rest.replace('/', '-'), titleCx, 1623, rest, { size: 28, len: 158 }, g);
  mk('rect', 'umap-frame', { x: frameX, y: 1637, width: 380, height: 376.7, fill: '#fff', stroke: '#555', 'stroke-width': 1.6 }, g);
  const n = mainBlobU.length;
  let blob = '';
  for (let i = 0; i < n; i++) {
    const j = (i + 1) % n, px = x(mainBlobU[i]), py = y(mainBlobV[i]), qx = x(mainBlobU[j]), qy = y(mainBlobV[j]);
    if (i === 0) blob += 'M' + ((x(mainBlobU[n - 1]) + px) / 2).toFixed(1) + ' ' + ((y(mainBlobV[n - 1]) + py) / 2).toFixed(1);
    blob += 'Q' + px.toFixed(1) + ' ' + py.toFixed(1) + ' ' + ((px + qx) / 2).toFixed(1) + ' ' + ((py + qy) / 2).toFixed(1);
  }
  mk('path', 'umap-photoreceptor-main-cluster', { d: blob + 'Z', fill: typeCols[0], stroke: typeCols[0], 'stroke-width': 3, 'stroke-linecap': 'round', 'stroke-dasharray': '1.5 2.5' }, g);
  const rand = rng(seed);
  for (let k = 0; k < 26; k++) {
    const f = rand(), uu = -2 + f * 6, vv = -3.4 + f * 3 + rand() * 2.6;
    mk('circle', 'umap-blob-gap', { cx: x(uu), cy: y(vv), r: 0.9, fill: '#d7e0ee' }, g);
  }
  mk('polyline', 'umap-interneuron-branch', { points: poly(interBranchU, interBranchV), fill: 'none', stroke: typeCols[4], 'stroke-width': 4, 'stroke-linecap': 'round' }, g);
  interBlobU.forEach(function (u, i) { mk('ellipse', 'umap-interneuron-blob', { cx: x(u), cy: y(interBlobV[i]), rx: 4.5, ry: 5.5, fill: typeCols[4] }, g); });
  mk('ellipse', 'umap-interneuron-hub', { cx: x(interBranchU[2]), cy: y(interBranchV[2]), rx: 9, ry: 6, fill: typeCols[4] }, g);
  mk('polyline', 'umap-interneuron-small-cluster', { points: poly(interSmallU, interSmallV), fill: 'none', stroke: typeCols[4], 'stroke-width': 3, 'stroke-linecap': 'round' }, g);
  mk('ellipse', 'umap-interneuron-small-blob', { cx: x(interSmallU[0]), cy: y(interSmallV[0]), rx: 5.5, ry: 5, fill: typeCols[4] }, g);
  mk('polyline', 'umap-photoreceptor-dots', { points: poly(photoDotsU, photoDotsV), fill: 'none', stroke: typeCols[0], 'stroke-width': 1.8, 'stroke-dasharray': '3 3' }, g);
  mk('polyline', 'umap-photoreceptor-tail', { points: poly(photoTailU, photoTailV), fill: 'none', stroke: typeCols[0], 'stroke-width': 3.4, 'stroke-linecap': 'round' }, g);
  mk('ellipse', 'umap-photoreceptor-small-cluster', { cx: x(photoTailU[0]), cy: y(photoTailV[0]), rx: 7.5, ry: 6.5, fill: typeCols[0] }, g);
  mk('polyline', 'umap-rpe-cluster', { points: poly(rpeU, rpeV), fill: 'none', stroke: typeCols[2], 'stroke-width': 2.4, 'stroke-linecap': 'round' }, g);
  mesU.forEach(function (u, i) { mk('ellipse', 'umap-mesenchymal-cluster', { cx: x(u), cy: y(mesV[i]), rx: 1.6, ry: 2.4, fill: typeCols[3] }, g); });
  mk('polyline', 'umap-glia-tip', { points: poly(gliaTipU, gliaTipV), fill: 'none', stroke: typeCols[0], 'stroke-width': 3, 'stroke-linecap': 'round' }, g);
  gliaU.forEach(function (u, i) { mk('ellipse', 'umap-glia-cluster', { cx: x(u), cy: y(gliaV[i]), rx: 9, ry: 9, fill: typeCols[1] }, g); });
  umapXTicks.forEach(function (t) {
    L('x-tick', x(t), 2013.7, x(t), 2018, '#333', 1.4, g);
    T('x-tick-label', x(t), 2031, String(t).replace('-', '\u2212'), { size: 17, fill: '#4d4d4d' }, g);
  });
  return { g: g, y: y };
}
const umapLeft = drawUmap('panel-g-umap-wt-wt', 69.4, 327.7, 'wt/wt', 270, 71);
const umapRight = drawUmap('panel-g-umap-ko-ko', 461, 719.3, 'ko/ko', 647, 139);
umapYTicks.forEach(function (t) {
  L('y-tick', 65, umapLeft.y(t), 69.4, umapLeft.y(t), '#333', 1.4, umapLeft.g);
  T('y-tick-label', 61, umapLeft.y(t), String(t).replace('-', '\u2212'), { anchor: 'end', size: 17, fill: '#4d4d4d' }, umapLeft.g);
});
T('umap-x-axis-title', 454, 2055, 'UMAP1', { size: 22, len: 75 }, umapLeft.g);
T('umap-y-axis-title', 20, 1825, 'UMAP2', { size: 22, rot: 1, len: 75 }, umapLeft.g);
(function () {
  const g = G('umap-legend', umapRight.g);
  mk('rect', 'umap-legend-box', { x: 743, y: 1642, width: 93, height: 123, fill: '#fff', stroke: '#111', 'stroke-width': 2 }, g);
  const ys = [1655, 1680, 1705, 1730, 1756];
  cellTypes.forEach(function (c, i) {
    mk('circle', 'umap-legend-dot-' + c.toLowerCase(), { cx: 749.6, cy: ys[i], r: 2.8, fill: typeCols[i] }, g);
    T('umap-legend-label-' + c.toLowerCase(), 767, ys[i], c, { anchor: 'start', size: 10.5 }, g);
  });
})();

/* ===== Panel H ===== */
(function () {
  const g = G('panel-h-cell-proportions');
  const y = linear(0, 1, 1983.3, 1627.3);
  const x = function (i) { return 1098.6 + i * 120.8; };
  mk('rect', 'plot-background', { x: 1026.6, y: 1610, width: 265, height: 390.7, fill: '#fff' }, g);
  propTicks.forEach(function (t, i) {
    const v = Number(t);
    L('grid-major', 1026.6, y(v), 1291.6, y(v), '#ebebeb', 1.6, g);
    if (i < 4) L('grid-minor', 1026.6, y(v + 0.125), 1291.6, y(v + 0.125), '#f3f3f3', 1, g);
    L('y-tick', 1022.5, y(v), 1026.6, y(v), '#333', 1.5, g);
    T('y-tick-label', 1017, y(v), t, { anchor: 'end', size: 17, fill: '#7a7a7a' }, g);
  });
  const stack = [[propInterneuron, typeCols[4], 'interneuron'], [propMesenchymal, '#c22026', 'mesenchymal'], [propRpe, typeCols[2], 'rpe'], [propGlia, typeCols[1], 'glia'], [propPhotoreceptor, typeCols[0], 'photoreceptor']];
  genotypes2.forEach(function (t, i) {
    L('grid-vertical', x(i), 1610, x(i), 2000.7, '#ebebeb', 1.6, g);
    let acc = 0;
    stack.forEach(function (s) {
      const next = acc + s[0][i];
      mk('rect', 'stack-' + t.replace('/', '-') + '-' + s[2], { x: x(i) - 54.7, y: y(next), width: 109.4, height: y(acc) - y(next), fill: s[1] }, g);
      acc = next;
    });
    L('x-tick', x(i), 2000.7, x(i), 2005, '#333', 1.6, g);
    T('x-label-gene', x(i) + 1.5 + i * 3.5, 2029, 'Dram2', { size: 22.5, style: 'italic' }, g);
    T('x-label-genotype', x(i) + 1.5 + i * 3.5, 2056, t, { size: 22.5 }, g);
  });
  mk('rect', 'plot-frame', { x: 1026.6, y: 1610, width: 265, height: 390.7, fill: 'none', stroke: '#444', 'stroke-width': 1.6 }, g);
  T('y-axis-title', 966.6, 1805.5, 'Proportion of cells', { size: 20, rot: 1, len: 167, fill: '#222' }, g);
  const legY = [1632.7, 1669, 1705, 1741, 1777];
  cellTypes.forEach(function (c, i) {
    mk('rect', 'legend-swatch-' + c.toLowerCase(), { x: 1326, y: legY[i], width: 31, height: 30, fill: i === 3 ? '#c22026' : typeCols[i] }, g);
    T('legend-label-' + c.toLowerCase(), 1371, legY[i] + 15, c, { anchor: 'start', size: 16.5, fill: '#222' }, g);
  });
})();
</script>
</body>
</html>
